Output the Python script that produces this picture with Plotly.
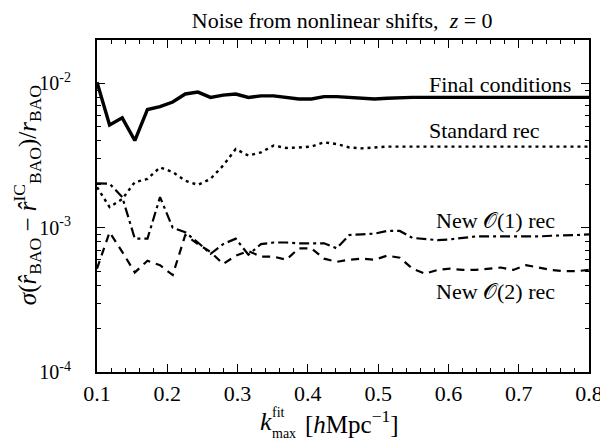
import math
import plotly.graph_objects as go

k_fit = [0.1000, 0.1179, 0.1359, 0.1538, 0.1718, 0.1897, 0.2077, 0.2256, 0.2436, 0.2615,
         0.2795, 0.2974, 0.3154, 0.3333, 0.3513, 0.3692, 0.3872, 0.4051, 0.4231, 0.4410,
         0.4590, 0.4769, 0.4949, 0.5128, 0.5308, 0.5487, 0.5667, 0.5846, 0.6026, 0.6205,
         0.6385, 0.6564, 0.6744, 0.6923, 0.7103, 0.7282, 0.7462, 0.7641, 0.7821, 0.8000]

final_cond = [0.0102, 0.00515, 0.00577, 0.00402, 0.0066, 0.0069, 0.00743, 0.00845, 0.00871, 0.0080,
              0.0083, 0.00845, 0.0080, 0.0082, 0.0082, 0.0080, 0.0078, 0.0078, 0.0081, 0.0081,
              0.0080, 0.0079, 0.0078, 0.0079, 0.0080, 0.0080, 0.0080, 0.0080, 0.0080, 0.0080,
              0.0080, 0.0080, 0.0080, 0.0080, 0.0080, 0.0080, 0.0080, 0.0080, 0.0080, 0.0080]

standard_rec = [0.00191, 0.00139, 0.00158, 0.00207, 0.00218, 0.00262, 0.00243, 0.00212, 0.00198, 0.00218,
                0.0027, 0.00351, 0.00316, 0.00333, 0.00371, 0.00357, 0.0036, 0.00365, 0.00391, 0.0038,
                0.0036, 0.00355, 0.0036, 0.00365, 0.00365, 0.00365, 0.00365, 0.00365, 0.00365, 0.00365,
                0.00365, 0.00365, 0.00365, 0.00365, 0.00365, 0.00365, 0.00365, 0.00365, 0.00365, 0.00365]

new_o1_rec = [0.00203, 0.00202, 0.00163, 0.00084, 0.00084, 0.00163, 0.0010, 0.00093, 0.00079, 0.00066,
              0.00077, 0.00084, 0.00065, 0.00077, 0.00079, 0.00079, 0.00078, 0.00078, 0.00078, 0.00072,
              0.00089, 0.0009, 0.00091, 0.00095, 0.00095, 0.00085, 0.00083, 0.00082, 0.00083, 0.00085,
              0.00087, 0.00087, 0.00087, 0.00086, 0.00086, 0.00087, 0.00088, 0.00088, 0.00089, 0.0009]

new_o2_rec = [0.00052, 0.00093, 0.00068, 0.00049, 0.00059, 0.00055, 0.00047, 0.00089, 0.00077, 0.00068,
              0.00056, 0.00064, 0.00069, 0.00063, 0.00063, 0.0006, 0.00072, 0.00072, 0.00061, 0.00058,
              0.0006, 0.00061, 0.0006, 0.00064, 0.00062, 0.00052, 0.00048, 0.00051, 0.00052, 0.00051,
              0.00051, 0.00052, 0.00053, 0.00051, 0.00055, 0.00053, 0.00051, 0.0005, 0.0005, 0.00051]

x_ticks = [0.1, 0.2, 0.3, 0.4, 0.5, 0.6, 0.7, 0.8]
x_tick_text = ["0.1", "0.2", "0.3", "0.4", "0.5", "0.6", "0.7", "0.8"]
y_ticks = [1e-4, 1e-3, 1e-2]
y_tick_text = ["10<sup>-4</sup>", "10<sup>-3</sup>", "10<sup>-2</sup>"]
y_minor = [m * 10.0 ** e for e in (-4, -3, -2) for m in range(2, 10) if m * 10.0 ** e <= 0.02]
x_minor = [round(0.1 + 0.02 * i, 2) for i in range(36)]

labels = ["Final conditions", "Standard rec", "New 𝒪(1) rec", "New 𝒪(2) rec"]
label_x = [0.777, 0.733, 0.754, 0.754]
label_y = [0.0099, 0.0047, 0.00112, 0.00036]

FONT = "Liberation Serif"
BLACK = "black"

fig = go.Figure()
fig.add_trace(go.Scatter(x=k_fit, y=final_cond, mode="lines",
                         line=dict(color=BLACK, width=3.4, dash="solid")))
fig.add_trace(go.Scatter(x=k_fit, y=standard_rec, mode="lines",
                         line=dict(color=BLACK, width=2.4, dash="3px,4px")))
fig.add_trace(go.Scatter(x=k_fit, y=new_o1_rec, mode="lines",
                         line=dict(color=BLACK, width=2.2, dash="10px,4px,3px,4px")))
fig.add_trace(go.Scatter(x=k_fit, y=new_o2_rec, mode="lines",
                         line=dict(color=BLACK, width=2.2, dash="8px,6px")))

for t, xv, yv in zip(labels, label_x, label_y):
    fig.add_annotation(x=xv, y=math.log10(yv), text=t, showarrow=False, xanchor="right",
                       yanchor="middle", yref="y", xref="x",
                       font=dict(family=FONT, size=22, color=BLACK))

# x-axis title pieces (stacked super/subscript on k)
XT_Y = -0.15
fig.add_annotation(x=0.327, y=XT_Y, xref="paper", yref="paper", xanchor="left", yanchor="middle",
                   text="<i>k</i>", showarrow=False,
                   font=dict(family=FONT, size=26, color=BLACK))
fig.add_annotation(x=0.352, y=XT_Y, xref="paper", yref="paper", xanchor="left", yanchor="bottom",
                   text="fit", showarrow=False, yshift=0,
                   font=dict(family=FONT, size=14, color=BLACK))
fig.add_annotation(x=0.352, y=XT_Y, xref="paper", yref="paper", xanchor="left", yanchor="top",
                   text="max", showarrow=False, yshift=-2,
                   font=dict(family=FONT, size=14, color=BLACK))
fig.add_annotation(x=0.418, y=XT_Y, xref="paper", yref="paper", xanchor="left", yanchor="middle",
                   text="[<i>h</i>Mpc<sup>−1</sup>]", showarrow=False,
                   font=dict(family=FONT, size=25, color=BLACK))

# y-axis title
fig.add_annotation(x=-0.142, y=0.533, xref="paper", yref="paper", xanchor="center", yanchor="middle",
                   textangle=-90, showarrow=False,
                   text="<i>σ</i>(<i>r̂</i><sub>BAO</sub> − <i>r̂</i><sup>IC</sup><sub>BAO</sub>)/<i>r</i><sub>BAO</sub>",
                   font=dict(family=FONT, size=25, color=BLACK))

fig.update_layout(
    width=600, height=432,
    margin=dict(l=89, r=19, t=32, b=68, autoexpand=False),
    paper_bgcolor="white", plot_bgcolor="white",
    showlegend=False,
    font=dict(family=FONT, color=BLACK),
    title=dict(text="Noise from nonlinear shifts,  <i>z</i> = 0", x=0.557, xanchor="center",
               y=0.972, yanchor="middle", font=dict(family=FONT, size=22, color=BLACK)),
)

fig.update_xaxes(
    range=[0.1, 0.8], tickmode="array", tickvals=x_ticks, ticktext=x_tick_text,
    ticks="inside", ticklen=8, tickwidth=1.2, tickcolor=BLACK,
    showline=True, linecolor=BLACK, linewidth=2.2, mirror="allticks",
    showgrid=False, zeroline=False, automargin=False,
    tickfont=dict(family=FONT, size=22, color=BLACK),
    minor=dict(tickmode="array", tickvals=x_minor, ticks="inside", ticklen=4, tickwidth=1,
               tickcolor=BLACK, showgrid=False),
)
fig.update_yaxes(
    type="log", range=[-4, math.log10(0.02)], tickmode="array", tickvals=y_ticks,
    ticktext=y_tick_text, ticklabelstandoff=20,
    ticks="inside", ticklen=8, tickwidth=1.2, tickcolor=BLACK,
    showline=True, linecolor=BLACK, linewidth=2.2, mirror="allticks",
    showgrid=False, zeroline=False, automargin=False,
    tickfont=dict(family=FONT, size=20, color=BLACK),
    minor=dict(tickmode="array", tickvals=y_minor, ticks="inside", ticklen=4, tickwidth=1,
               tickcolor=BLACK, showgrid=False),
)

fig.write_html("out.html")
